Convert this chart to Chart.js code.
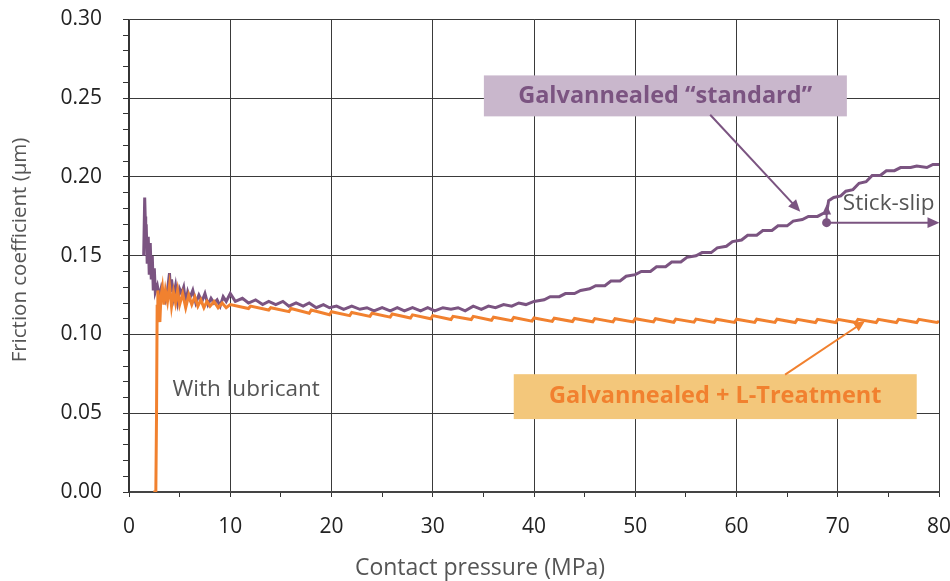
<!DOCTYPE html>
<html>
<head>
<meta charset="utf-8">
<script src="https://cdn.jsdelivr.net/npm/chart.js@4/dist/chart.umd.min.js"></script>
<style>
  html, body { margin: 0; padding: 0; background: #fff; }
  canvas { display: block; }
</style>
</head>
<body>
<canvas id="frictionChart" width="950" height="581"></canvas>
<script>
// Galvannealed "standard" - friction vs contact pressure
const standardPressure = [
  1.45, 1.55, 1.6, 1.65, 1.7, 1.8, 1.9, 2.0, 2.1, 2.2, 2.3, 2.4, 2.5, 2.6, 2.8, 3.0, 3.2, 3.4, 3.6, 3.8,
  4.0, 4.1, 4.2, 4.4, 4.6, 4.8, 5.0, 5.2, 5.4, 5.6, 5.8, 6.0, 6.3, 6.6, 6.9, 7.2, 7.5, 7.8, 8.1, 8.4,
  8.7, 9.0, 9.3, 9.6, 10.0, 10.5, 11.2, 11.8, 12.5, 13.2, 13.8, 14.5, 15.2, 15.8, 16.5, 17.2, 17.8, 18.5,
  19.2, 19.8, 20.5, 21.2, 22.0, 22.8, 23.5, 24.2, 25.0, 25.8, 26.5, 27.2, 28.0, 28.8, 29.5, 30.2, 31.0,
  31.8, 32.5, 33.2, 34.0, 34.8, 35.5, 36.2, 37.0, 37.8, 38.5, 39.2, 40.0, 41.0, 41.6, 42.5, 43.1, 44.0,
  44.6, 45.5, 46.1, 47.0, 47.6, 48.5, 49.1, 50.0, 50.6, 51.5, 52.1, 53.0, 53.6, 54.5, 55.1, 56.0, 56.6,
  57.5, 58.1, 59.0, 59.6, 60.5, 61.1, 62.0, 62.6, 63.5, 64.1, 65.0, 65.6, 66.5, 67.1, 68.0, 68.6, 68.9,
  69.1, 69.6, 70.3, 70.8, 71.5, 72.1, 72.8, 73.4, 74.2, 74.8, 75.6, 76.2, 77.2, 77.8, 78.8, 79.4, 80.0
];
const standardFriction = [
  0.150, 0.187, 0.175, 0.155, 0.170, 0.145, 0.162, 0.138, 0.158, 0.135, 0.150, 0.128, 0.142, 0.127, 0.131, 0.124, 0.130, 0.126, 0.122, 0.128,
  0.139, 0.127, 0.135, 0.124, 0.131, 0.121, 0.129, 0.126, 0.130, 0.120, 0.127, 0.123, 0.128, 0.120, 0.125, 0.121, 0.126, 0.119, 0.123, 0.120,
  0.122, 0.118, 0.124, 0.121, 0.126, 0.121, 0.123, 0.120, 0.122, 0.119, 0.121, 0.119, 0.121, 0.118, 0.120, 0.118, 0.120, 0.117,
  0.119, 0.117, 0.118, 0.116, 0.118, 0.116, 0.117, 0.115, 0.117, 0.115, 0.117, 0.115, 0.117, 0.115, 0.117, 0.115, 0.117,
  0.116, 0.117, 0.115, 0.118, 0.116, 0.118, 0.117, 0.119, 0.118, 0.120, 0.119, 0.121, 0.122, 0.124, 0.124, 0.126, 0.126,
  0.128, 0.129, 0.131, 0.131, 0.134, 0.134, 0.137, 0.138, 0.140, 0.140, 0.143, 0.143, 0.146, 0.146, 0.149, 0.150, 0.152,
  0.152, 0.155, 0.156, 0.159, 0.160, 0.163, 0.163, 0.166, 0.166, 0.169, 0.169, 0.172, 0.173, 0.175, 0.175, 0.177, 0.177,
  0.185, 0.187, 0.188, 0.191, 0.192, 0.196, 0.197, 0.201, 0.201, 0.204, 0.204, 0.206, 0.206, 0.207, 0.206, 0.208, 0.208
];

// Galvannealed + L-Treatment
const treatedPressure = [
  2.4, 2.65, 2.72, 2.78, 2.85, 2.95, 3.05, 3.15, 3.3, 3.45, 3.6, 3.8, 4.0, 4.2, 4.4, 4.6, 4.8, 5.0, 5.3, 5.6,
  5.9, 6.2, 6.5, 6.8, 7.1, 7.4, 7.7, 8.0, 8.4, 8.8, 9.2, 9.6, 10.0,
  11.8, 12.0, 13.8, 14.0, 15.8, 16.0, 17.8, 18.0, 19.8, 20.0, 21.8, 22.0, 23.8, 24.0, 25.8, 26.0, 27.8, 28.0,
  29.8, 30.0, 31.8, 32.0, 33.8, 34.0, 35.8, 36.0, 37.8, 38.0, 39.8, 40.0, 41.8, 42.0, 43.8, 44.0, 45.8, 46.0,
  47.8, 48.0, 49.8, 50.0, 51.8, 52.0, 53.8, 54.0, 55.8, 56.0, 57.8, 58.0, 59.8, 60.0, 61.8, 62.0, 63.8, 64.0,
  65.8, 66.0, 67.8, 68.0, 69.8, 70.0, 71.8, 72.0, 73.8, 74.0, 75.8, 76.0, 77.8, 78.0, 79.8, 80.0
];
const treatedFriction = [
  0.000, 0.000, 0.050, 0.118, 0.128, 0.112, 0.108, 0.124, 0.130, 0.119, 0.128, 0.121, 0.131, 0.118, 0.127, 0.120, 0.128, 0.119, 0.126, 0.117,
  0.125, 0.119, 0.124, 0.118, 0.122, 0.117, 0.121, 0.118, 0.121, 0.117, 0.120, 0.117, 0.119,
  0.1165, 0.118, 0.1155, 0.117, 0.1145, 0.1165, 0.1135, 0.1155, 0.1125, 0.1145, 0.112, 0.114, 0.1115, 0.1135, 0.111, 0.113, 0.1105, 0.1125,
  0.110, 0.112, 0.1095, 0.1115, 0.1095, 0.1115, 0.109, 0.111, 0.1088, 0.1108, 0.1085, 0.1105, 0.1083, 0.1103, 0.1082, 0.1102, 0.1081, 0.1101,
  0.108, 0.110, 0.108, 0.110, 0.108, 0.110, 0.1078, 0.1098, 0.1078, 0.1098, 0.1077, 0.1097, 0.1077, 0.1097, 0.1077, 0.1097, 0.1077, 0.1097,
  0.1076, 0.1096, 0.1076, 0.1096, 0.1076, 0.1096, 0.1076, 0.1096, 0.1076, 0.1096, 0.1076, 0.1096, 0.1076, 0.1096, 0.1076, 0.1085
];

const xTickValues = [0, 10, 20, 30, 40, 50, 60, 70, 80];
const yTickValues = ['0.00', '0.05', '0.10', '0.15', '0.20', '0.25', '0.30'];

const purple = '#7b5481';
const orange = '#f1812f';
const textGray = '#555555';

function toPoints(xs, ys) {
  return xs.map((x, i) => ({ x: x, y: ys[i] }));
}

// draws a line with a filled arrowhead at the end
function arrow(ctx, x1, y1, x2, y2, color, width, head) {
  const a = Math.atan2(y2 - y1, x2 - x1);
  ctx.save();
  ctx.strokeStyle = color;
  ctx.fillStyle = color;
  ctx.lineWidth = width;
  ctx.beginPath();
  ctx.moveTo(x1, y1);
  ctx.lineTo(x2 - Math.cos(a) * head * 0.8, y2 - Math.sin(a) * head * 0.8);
  ctx.stroke();
  ctx.beginPath();
  ctx.moveTo(x2, y2);
  ctx.lineTo(x2 - head * Math.cos(a) + head * 0.45 * Math.sin(a), y2 - head * Math.sin(a) - head * 0.45 * Math.cos(a));
  ctx.lineTo(x2 - head * Math.cos(a) - head * 0.45 * Math.sin(a), y2 - head * Math.sin(a) + head * 0.45 * Math.cos(a));
  ctx.closePath();
  ctx.fill();
  ctx.restore();
}

const annotations = {
  id: 'annotations',
  afterDraw(chart) {
    const ctx = chart.ctx;
    const xs = chart.scales.x;
    const ys = chart.scales.y;
    const px = v => xs.getPixelForValue(v);
    const py = v => ys.getPixelForValue(v);
    const area = chart.chartArea;

    ctx.save();

    // label boxes
    ctx.fillStyle = '#c9b7cc';
    ctx.fillRect(px(35.05), py(0.2645), px(70.9) - px(35.05), py(0.2385) - py(0.2645));
    ctx.fillStyle = '#f3c77b';
    ctx.fillRect(px(38.0), py(0.0748), px(77.8) - px(38.0), py(0.0463) - py(0.0748));

    ctx.textAlign = 'center';
    ctx.textBaseline = 'middle';
    ctx.font = 'bold 23.5px "Open Sans"';
    ctx.fillStyle = purple;
    ctx.fillText('Galvannealed \u201cstandard\u201d', px(52.95), py(0.2515));
    ctx.fillStyle = orange;
    ctx.fillText('Galvannealed + L-Treatment', px(57.9), py(0.0605));

    // arrows
    arrow(ctx, px(57.4), py(0.2395), px(66.3), py(0.178), purple, 2, 12);
    arrow(ctx, px(64.8), py(0.0745), px(72.7), py(0.1085), orange, 2, 11);

    // stick-slip marker
    ctx.fillStyle = purple;
    ctx.beginPath();
    ctx.arc(px(68.9), py(0.171), 4.5, 0, Math.PI * 2);
    ctx.fill();
    arrow(ctx, px(68.9), py(0.171), px(68.9), py(0.1825), purple, 2, 10);
    arrow(ctx, px(68.9), py(0.171), px(80.05), py(0.171), purple, 2, 12);

    ctx.font = '22.5px "Open Sans"';
    ctx.fillStyle = textGray;
    ctx.textAlign = 'left';
    ctx.textBaseline = 'alphabetic';
    ctx.fillText('Stick-slip', px(70.5), py(0.179));
    ctx.fillText('With lubricant', px(4.3), py(0.0610));

    // axis titles
    ctx.textAlign = 'center';
    ctx.textBaseline = 'middle';
    ctx.font = '23px "Open Sans"';
    ctx.fillText('Contact pressure (MPa)', 480, 568);
    ctx.font = '20.5px "Open Sans"';
    ctx.translate(20, 250);
    ctx.rotate(-Math.PI / 2);
    ctx.fillText('Friction coefficient (\u00b5m)', 0, 0);
    ctx.restore();
  }
};

new Chart(document.getElementById('frictionChart'), {
  type: 'line',
  data: {
    datasets: [
      {
        label: 'Galvannealed + L-Treatment',
        data: toPoints(treatedPressure, treatedFriction),
        borderColor: orange,
        borderWidth: 3,
        pointRadius: 0,
        tension: 0
      },
      {
        label: 'Galvannealed "standard"',
        data: toPoints(standardPressure, standardFriction),
        borderColor: purple,
        borderWidth: 3,
        pointRadius: 0,
        tension: 0
      }
    ]
  },
  options: {
    responsive: false,
    animation: false,
    layout: { padding: { top: 19.5, right: 11, left: 0, bottom: 0 } },
    plugins: {
      legend: { display: false },
      tooltip: { enabled: false }
    },
    scales: {
      x: {
        type: 'linear',
        min: 0,
        max: 80,
        afterFit(scale) {
          scale.height = 89;
          scale.paddingLeft = 0;
          scale.paddingRight = 0;
        },
        ticks: {
          stepSize: 5,
          autoSkip: false,
          maxRotation: 0,
          padding: 17,
          color: '#222',
          font: { family: 'Open Sans', size: 21 },
          callback: v => xTickValues.includes(v) ? String(v) : ''
        },
        grid: {
          color: c => (c.tick && xTickValues.includes(c.tick.value)) ? '#3a3a3a' : 'rgba(0,0,0,0)',
          tickColor: '#333',
          tickLength: 5,
          lineWidth: 1
        },
        border: { color: '#444', width: 2 }
      },
      y: {
        min: 0,
        max: 0.30,
        afterFit(scale) {
          scale.width = 129;
          scale.paddingTop = 0;
          scale.paddingBottom = 0;
        },
        ticks: {
          stepSize: 0.01,
          autoSkip: false,
          padding: 21,
          color: '#222',
          font: { family: 'Open Sans', size: 21 },
          callback: v => yTickValues.includes(v.toFixed(2)) && Math.round(v * 100) % 5 === 0 ? v.toFixed(2) : ''
        },
        grid: {
          color: c => (c.tick && Math.round(c.tick.value * 100) % 5 === 0) ? '#3a3a3a' : 'rgba(0,0,0,0)',
          tickColor: '#333',
          tickLength: 6,
          lineWidth: 1
        },
        border: { color: '#333', width: 1.5 }
      }
    }
  },
  plugins: [annotations]
});
</script>
</body>
</html>
